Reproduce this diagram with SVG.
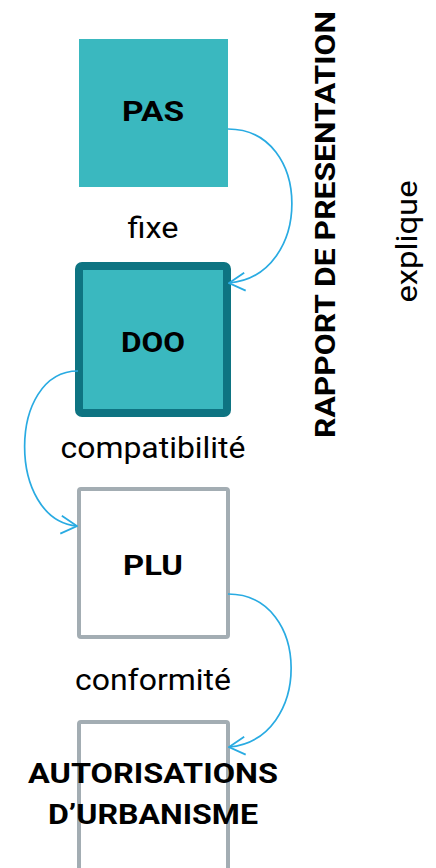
<svg xmlns="http://www.w3.org/2000/svg" width="436" height="868" viewBox="0 0 436 868">
<defs>
<marker id="arr" viewBox="0 0 20 20" refX="19" refY="10" markerWidth="20" markerHeight="20" markerUnits="userSpaceOnUse" orient="auto">
<path d="M3,1 L19,10 L3,19" fill="none" stroke="#29abe2" stroke-width="1.8"/>
</marker>
<style>
.b{font-family:Roboto,"Liberation Sans",sans-serif;font-weight:bold;font-size:28px;fill:#000;text-anchor:middle}
.r{font-family:Roboto,"Liberation Sans",sans-serif;font-size:29px;fill:#000;text-anchor:middle}
.teal{fill:#3ab8bf}
.gray{fill:#fff;stroke:#a3adb3;stroke-width:4}
.con{fill:none;stroke:#29abe2;stroke-width:1.7}
</style>
</defs>
<rect width="436" height="868" fill="#fff"/>
<g id="pas">
<rect class="teal" x="79" y="39" width="149" height="148"/>
<text class="b" x="153" y="121" textLength="62" lengthAdjust="spacingAndGlyphs">PAS</text>
</g>
<g id="doo">
<rect class="teal" x="79" y="266" width="148" height="147" rx="3" stroke="#0e7482" stroke-width="8"/>
<text class="b" x="153" y="352" textLength="64" lengthAdjust="spacingAndGlyphs">DOO</text>
</g>
<g id="plu">
<rect class="gray" x="79" y="489" width="149" height="148" rx="2"/>
<text class="b" x="153" y="575" textLength="60" lengthAdjust="spacingAndGlyphs">PLU</text>
</g>
<g id="autorisations">
<rect class="gray" x="79" y="722" width="149" height="150" rx="2"/>
<text class="b" x="153" y="783" textLength="250" lengthAdjust="spacingAndGlyphs">AUTORISATIONS</text>
<text class="b" x="153" y="824" textLength="210" lengthAdjust="spacingAndGlyphs">D’URBANISME</text>
</g>
<g id="rapport">
<text class="b" transform="translate(335,224.5) rotate(-90)" x="0" y="0" textLength="427" lengthAdjust="spacingAndGlyphs">RAPPORT DE PRESENTATION</text>
</g>
<g id="connectors">
<path class="con" d="M228,129 C313,129 313,276 229,283" marker-end="url(#arr)"/>
<path class="con" d="M78,371 C7,371 7,520 77,526" marker-end="url(#arr)"/>
<path class="con" d="M228,594 C312,594 312,740 229,747" marker-end="url(#arr)"/>
</g>
<g id="labels">
<text class="r" x="153" y="237.5" textLength="51" lengthAdjust="spacingAndGlyphs">fixe</text>
<text class="r" x="153" y="458" textLength="185" lengthAdjust="spacingAndGlyphs">compatibilité</text>
<text class="r" x="153" y="690" textLength="156" lengthAdjust="spacingAndGlyphs">conformité</text>
<text class="r" transform="translate(417,241.5) rotate(-90)" x="0" y="0" textLength="122" lengthAdjust="spacingAndGlyphs">explique</text>
</g>
</svg>
